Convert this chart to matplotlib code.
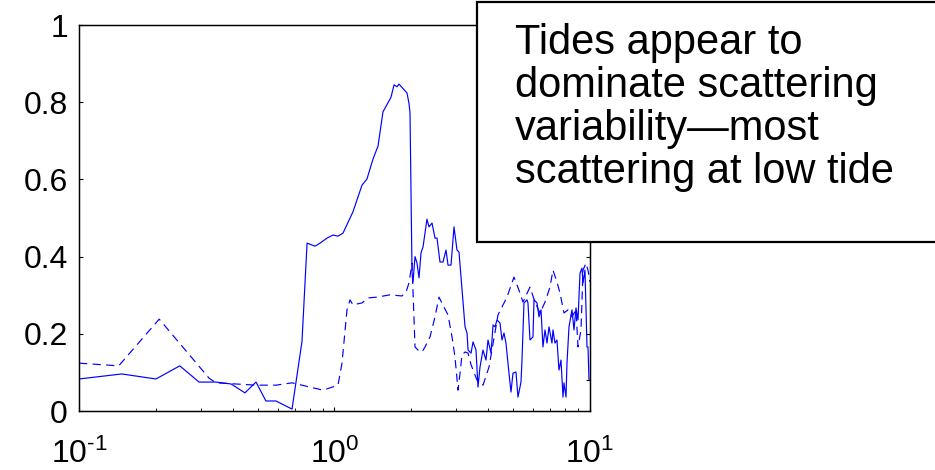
import matplotlib
matplotlib.use("Agg")
import matplotlib.pyplot as plt
from matplotlib.patches import Rectangle

plt.rcParams['font.family'] = ['Liberation Sans', 'DejaVu Sans']
plt.rcParams['mathtext.fontset'] = 'custom'
plt.rcParams['mathtext.rm'] = 'Liberation Sans'
plt.rcParams['mathtext.it'] = 'Liberation Sans'
plt.rcParams['mathtext.bf'] = 'Liberation Sans'
plt.rcParams['axes.unicode_minus'] = False

# --- solid curve (frequence, valeur) ---
solid_x = [0.100, 0.147, 0.200, 0.248, 0.295, 0.344, 0.394, 0.446, 0.493, 0.539,
           0.590, 0.682, 0.746, 0.781, 0.839, 0.878, 0.935, 0.987, 1.032, 1.080,
           1.181, 1.281, 1.340, 1.415, 1.480, 1.548, 1.664, 1.710, 1.757, 1.788,
           1.922, 1.957, 1.975, 2.011, 2.029, 2.066, 2.103, 2.142, 2.181, 2.221,
           2.301, 2.344, 2.408, 2.474, 2.519, 2.588, 2.659, 2.732, 2.782, 2.858,
           2.936, 3.016, 3.071, 3.243, 3.302, 3.332, 3.423, 3.485, 3.580, 3.645,
           3.711, 3.813, 3.917, 3.989, 4.099, 4.174, 4.250, 4.325, 4.444, 4.525,
           4.607, 4.690, 4.819, 4.907, 4.995, 5.132, 5.226, 5.370, 5.418, 5.516,
           5.667, 5.718, 5.823, 5.983, 6.037, 6.203, 6.316, 6.431, 6.546, 6.666,
           6.787, 6.911, 7.100, 7.164, 7.294, 7.426, 7.562, 7.700, 7.840, 7.911,
           8.057, 8.128, 8.276, 8.502, 8.658, 8.815, 8.976, 9.140, 9.305, 9.390,
           9.559, 9.734, 9.822, 9.911]
solid_y = [0.083, 0.096, 0.083, 0.117, 0.075, 0.075, 0.070, 0.047, 0.075, 0.026,
           0.026, 0.005, 0.180, 0.435, 0.427, 0.435, 0.448, 0.456, 0.453, 0.461,
           0.516, 0.585, 0.601, 0.653, 0.686, 0.775, 0.813, 0.845, 0.840, 0.847,
           0.824, 0.797, 0.772, 0.360, 0.334, 0.400, 0.384, 0.345, 0.410, 0.425,
           0.497, 0.477, 0.487, 0.448, 0.448, 0.386, 0.386, 0.417, 0.378, 0.378,
           0.477, 0.417, 0.412, 0.218, 0.202, 0.158, 0.150, 0.179, 0.158, 0.062,
           0.114, 0.158, 0.132, 0.184, 0.150, 0.223, 0.218, 0.236, 0.228, 0.184,
           0.202, 0.176, 0.098, 0.049, 0.098, 0.101, 0.036, 0.075, 0.132, 0.280,
           0.288, 0.280, 0.184, 0.192, 0.288, 0.280, 0.244, 0.262, 0.166, 0.210,
           0.176, 0.218, 0.176, 0.210, 0.176, 0.184, 0.106, 0.132, 0.036, 0.073,
           0.036, 0.124, 0.218, 0.262, 0.210, 0.267, 0.236, 0.357, 0.370, 0.332,
           0.365, 0.166, 0.166, 0.080]

# --- dashed curve ---
dashed_x = [0.100, 0.143, 0.206, 0.323, 0.344, 0.493, 0.591, 0.682, 0.802, 0.902,
            1.032, 1.070, 1.119, 1.150, 1.181, 1.281, 1.352, 1.467, 1.649, 1.837,
            1.905, 1.957, 2.011, 2.066, 2.122, 2.201, 2.261, 2.365, 2.474, 2.565,
            2.683, 2.782, 2.884, 2.962, 3.044, 3.100, 3.155, 3.243, 3.332, 3.423,
            3.612, 3.813, 4.025, 4.365, 4.732, 5.041, 5.273, 5.467, 5.823, 6.092,
            6.373, 6.666, 6.973, 7.164, 7.426, 7.630, 7.911, 8.202, 8.502, 8.815,
            8.976, 9.222, 9.390, 9.647, 9.822, 10.0]
dashed_y = [0.124, 0.117, 0.238, 0.085, 0.073, 0.067, 0.067, 0.073, 0.062, 0.054,
            0.067, 0.124, 0.262, 0.288, 0.275, 0.280, 0.293, 0.295, 0.301, 0.298,
            0.308, 0.332, 0.383, 0.166, 0.158, 0.153, 0.166, 0.192, 0.244, 0.295,
            0.269, 0.249, 0.192, 0.140, 0.054, 0.098, 0.145, 0.153, 0.150, 0.120,
            0.080, 0.067, 0.114, 0.249, 0.295, 0.347, 0.313, 0.282, 0.321, 0.282,
            0.254, 0.282, 0.321, 0.365, 0.334, 0.306, 0.254, 0.262, 0.244, 0.262,
            0.166, 0.210, 0.365, 0.383, 0.365, 0.334]

y_ticks = [0, 0.2, 0.4, 0.6, 0.8, 1]
y_tick_labels = ['0', '0.2', '0.4', '0.6', '0.8', '1']
x_ticks = [0.1, 1, 10]
x_tick_labels = ['$10^{\u2010 1}$', '$10^{0}$', '$10^{1}$']
right_ticks = [0.08, 0.2, 0.4, 0.6, 0.8, 1.0]

note = "Tides appear to\ndominate scattering\nvariability\u2014most\nscattering at low tide"

fig = plt.figure(figsize=(9.35, 4.7), dpi=100)
ax = fig.add_axes([0.0845, 0.1255, 0.5465, 0.8213])

ax.plot(solid_x, solid_y, color='#0000ff', lw=0.85)
ax.plot(dashed_x, dashed_y, color='#0000ff', lw=0.85, linestyle='--', dashes=(7, 4.5))

ax.set_xscale('log')
ax.set_xlim(0.1, 10)
ax.set_ylim(0, 1)
ax.set_xticks(x_ticks)
ax.set_xticklabels(x_tick_labels, fontsize=23)
ax.set_yticks(y_ticks)
ax.set_yticklabels(y_tick_labels, fontsize=23)
ax.tick_params(which='major', direction='in', length=3, width=0.8)
ax.tick_params(axis='y', pad=8)
ax.tick_params(axis='x', which='major', pad=20)
ax.tick_params(which='minor', direction='in', length=2.5, width=0.6)
ax.tick_params(axis='y', which='minor', left=False)
for s in ax.spines.values():
    s.set_linewidth(1.0)

# ticks du cote droit
ax2 = ax.twinx()
ax2.set_ylim(0, 1)
ax2.set_yticks(right_ticks)
ax2.set_yticklabels([])
ax2.tick_params(direction='in', length=3, width=0.8)

# encadre de texte
fig.patches.append(Rectangle((477 / 935, 228 / 470), 500 / 935, 240 / 470,
                             transform=fig.transFigure, facecolor='white',
                             edgecolor='black', lw=1.6, zorder=10))
fig.text(515 / 935, 447 / 470, note, fontsize=30, va='top', ha='left',
         linespacing=1.1, zorder=11)

fig.savefig('out.png', dpi=100)
